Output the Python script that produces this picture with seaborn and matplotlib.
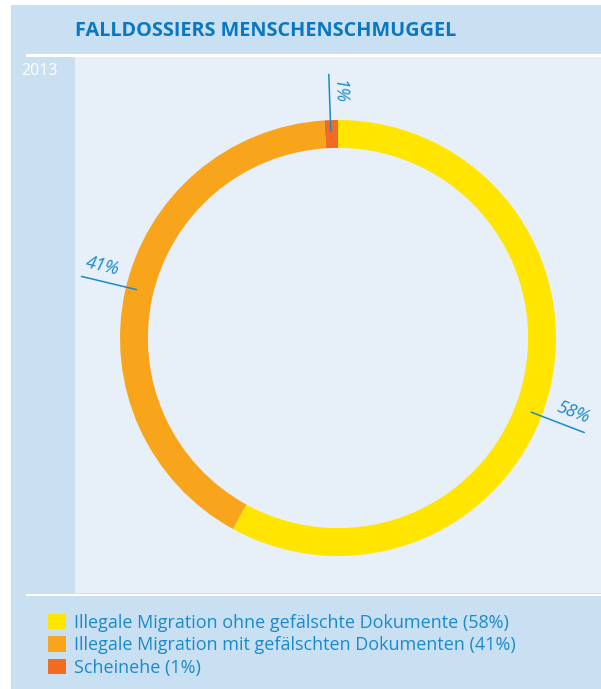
import numpy as np
import matplotlib
matplotlib.use("Agg")
import matplotlib.pyplot as plt
from matplotlib.patches import Rectangle, Patch
import seaborn as sns

# data
categories = ["Illegale Migration ohne gefälschte Dokumente",
              "Illegale Migration mit gefälschten Dokumenten",
              "Scheinehe"]
shares = [58, 41, 1]
colors = ["#FFE500", "#F8A51C", "#F26B22"]
label_angles = [-21, 166.5, 92]      # where the callout lines sit
title = "FALLDOSSIERS MENSCHENSCHMUGGEL"
year = "2013"

sns.set_theme(style="white")
plt.rcParams["font.family"] = ["Open Sans", "DejaVu Sans"]

W, H = 601, 689
fig = plt.figure(figsize=(W / 100, H / 100), dpi=100)
fig.patch.set_facecolor("white")

panel = "#C9DFF2"
inner = "#E7F0F8"
blue = "#1A8ACD"
title_blue = "#0A77C1"


def px_rect(x0, y0, x1, y1, color):
    fig.add_artist(Rectangle((x0 / W, 1 - y1 / H), (x1 - x0) / W, (y1 - y0) / H,
                             transform=fig.transFigure, facecolor=color,
                             edgecolor="none", zorder=-5))


px_rect(11, 5, W, H, panel)
px_rect(75, 57, W, 593, inner)
px_rect(26, 54, W, 56.5, "white")
px_rect(26, 593.5, W, 596, "white")

fig.text(75 / W, 1 - 31 / H, title, color=title_blue, fontsize=14.3,
         fontweight="bold", va="center", ha="left")
fig.text(21 / W, 1 - 71 / H, year, color="white", fontsize=11.5,
         va="center", ha="left")

# donut axes: chart area 75..601 x 57..593, centre at (338, 338), r = 218 px
ax = fig.add_axes([75 / W, 1 - 593 / H, 526 / W, 536 / H])
ax.pie(shares, colors=colors, startangle=90, counterclock=False,
       radius=1.0, wedgeprops=dict(width=0.128, linewidth=0))
ax.set_aspect("auto")
ax.set_xlim((75 - 338) / 218, (601 - 338) / 218)
ax.set_ylim((338 - 593) / 218, (338 - 57) / 218)
ax.axis("off")

text_offset = [3.3, -3.5, -2.2]
for s, a, off in zip(shares, label_angles, text_offset):
    t = np.deg2rad(a)
    ax.plot([0.95 * np.cos(t), 1.21 * np.cos(t)],
            [0.95 * np.sin(t), 1.21 * np.sin(t)], color=blue, lw=1.1)
    ta = np.deg2rad(a + off)
    rot = a - 180 if a > 90 else a
    ax.text(1.13 * np.cos(ta), 1.13 * np.sin(ta), f"{s}%", color=blue,
            fontsize=13, style="italic", rotation=rot,
            rotation_mode="anchor", ha="center", va="center")

handles = [Patch(facecolor=c, edgecolor="none") for c in colors]
labels = [f"{c} ({s}%)" for c, s in zip(categories, shares)]
fig.legend(handles, labels, loc="upper left",
           bbox_to_anchor=(48 / W, 1 - 613.5 / H), frameon=False,
           fontsize=13, labelcolor=blue, handlelength=1.0,
           handleheight=0.95, handletextpad=0.45, labelspacing=0.25,
           borderpad=0, borderaxespad=0)

fig.savefig("out.png", dpi=100, facecolor="white")
